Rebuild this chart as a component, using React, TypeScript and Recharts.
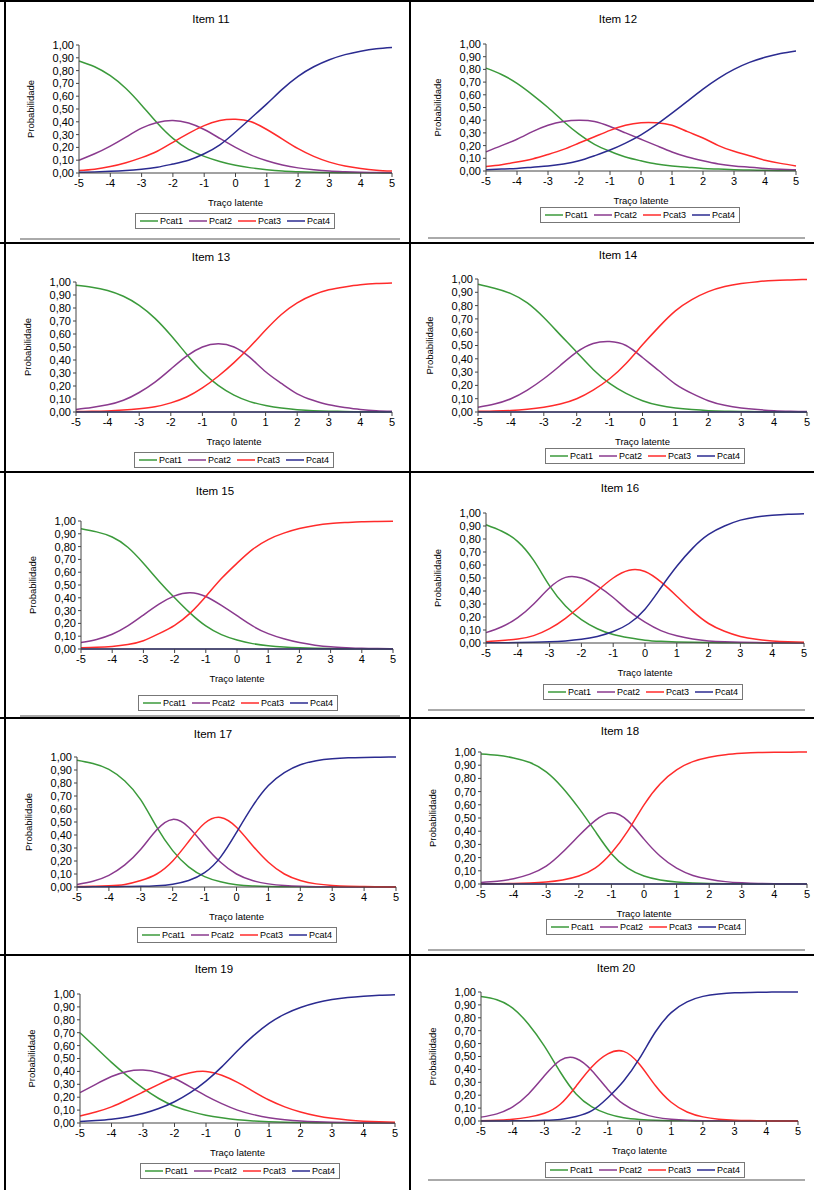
import React from "react";
import { LineChart, Line, XAxis, YAxis, Legend } from "recharts";

// latent trait grid (x) and axis ticks
const theta = [-5, -4.5, -4, -3.5, -3, -2.5, -2, -1.5, -1, -0.5, 0, 0.5, 1, 1.5, 2, 2.5, 3, 3.5, 4, 4.5, 5];
const thetaTicks = [-5, -4, -3, -2, -1, 0, 1, 2, 3, 4, 5];
const probTicks = [0, 0.1, 0.2, 0.3, 0.4, 0.5, 0.6, 0.7, 0.8, 0.9, 1];

const seriesNames = ["Pcat1", "Pcat2", "Pcat3", "Pcat4"];
const seriesColors = ["#3b9a3b", "#8a3a8e", "#ff2b2b", "#2b2b90"];

const zeros = [0, 0, 0, 0, 0, 0, 0, 0, 0, 0, 0, 0, 0, 0, 0, 0, 0, 0, 0, 0, 0];

// category curves per item: [Pcat1, Pcat2, Pcat3, Pcat4]
const item11 = [
  [0.875, 0.83, 0.76, 0.66, 0.53, 0.39, 0.27, 0.185, 0.13, 0.09, 0.06, 0.04, 0.025, 0.015, 0.01, 0.006, 0.004, 0.002, 0.001, 0.001, 0],
  [0.1, 0.15, 0.21, 0.28, 0.35, 0.395, 0.41, 0.39, 0.34, 0.27, 0.2, 0.14, 0.095, 0.062, 0.04, 0.025, 0.015, 0.01, 0.006, 0.004, 0.002],
  [0.02, 0.03, 0.05, 0.08, 0.12, 0.17, 0.24, 0.31, 0.37, 0.41, 0.42, 0.4, 0.34, 0.265, 0.19, 0.13, 0.085, 0.055, 0.035, 0.022, 0.015],
  [0.005, 0.008, 0.013, 0.02, 0.03, 0.045, 0.07, 0.1, 0.15, 0.22, 0.32, 0.43, 0.54, 0.655, 0.755, 0.83, 0.885, 0.925, 0.952, 0.97, 0.98],
];
const item12 = [
  [0.81, 0.76, 0.69, 0.6, 0.5, 0.39, 0.29, 0.21, 0.155, 0.11, 0.08, 0.055, 0.04, 0.03, 0.02, 0.015, 0.01, 0.008, 0.005, 0.004, 0.003],
  [0.15, 0.2, 0.25, 0.31, 0.36, 0.39, 0.4, 0.39, 0.35, 0.3, 0.25, 0.2, 0.15, 0.11, 0.08, 0.055, 0.04, 0.03, 0.02, 0.013, 0.009],
  [0.035, 0.05, 0.07, 0.095, 0.13, 0.17, 0.22, 0.27, 0.32, 0.36, 0.38, 0.38, 0.36, 0.31, 0.26, 0.2, 0.155, 0.12, 0.085, 0.06, 0.04],
  [0.01, 0.015, 0.02, 0.03, 0.04, 0.055, 0.08, 0.12, 0.165, 0.22, 0.285, 0.365, 0.455, 0.55, 0.645, 0.73, 0.8, 0.855, 0.895, 0.925, 0.945],
];
const item13 = [
  [0.975, 0.96, 0.935, 0.89, 0.82, 0.72, 0.59, 0.445, 0.31, 0.205, 0.13, 0.08, 0.05, 0.03, 0.018, 0.01, 0.006, 0.004, 0.002, 0.001, 0.001],
  [0.02, 0.035, 0.055, 0.09, 0.15, 0.23, 0.33, 0.43, 0.5, 0.525, 0.5, 0.42, 0.31, 0.22, 0.14, 0.09, 0.055, 0.035, 0.02, 0.01, 0.006],
  [0.003, 0.005, 0.008, 0.015, 0.025, 0.04, 0.07, 0.115, 0.185, 0.275, 0.38, 0.5, 0.63, 0.75, 0.84, 0.9, 0.94, 0.962, 0.978, 0.988, 0.993],
  zeros,
];
const item14 = [
  [0.96, 0.93, 0.89, 0.82, 0.71, 0.58, 0.45, 0.32, 0.215, 0.14, 0.085, 0.05, 0.03, 0.018, 0.01, 0.006, 0.004, 0.002, 0.001, 0.001, 0],
  [0.035, 0.06, 0.1, 0.165, 0.25, 0.35, 0.45, 0.515, 0.53, 0.5, 0.41, 0.31, 0.21, 0.14, 0.085, 0.05, 0.03, 0.018, 0.01, 0.006, 0.003],
  [0.005, 0.007, 0.011, 0.02, 0.035, 0.06, 0.1, 0.165, 0.25, 0.365, 0.505, 0.64, 0.76, 0.845, 0.905, 0.944, 0.966, 0.98, 0.989, 0.993, 0.997],
  zeros,
];
const item15 = [
  [0.94, 0.915, 0.875, 0.795, 0.67, 0.53, 0.4, 0.28, 0.18, 0.112, 0.07, 0.042, 0.025, 0.015, 0.009, 0.005, 0.003, 0.002, 0.001, 0.001, 0],
  [0.05, 0.075, 0.115, 0.18, 0.265, 0.35, 0.415, 0.44, 0.41, 0.34, 0.26, 0.18, 0.12, 0.08, 0.05, 0.03, 0.017, 0.01, 0.005, 0.003, 0.002],
  [0.01, 0.013, 0.02, 0.035, 0.065, 0.12, 0.185, 0.28, 0.41, 0.55, 0.67, 0.778, 0.855, 0.905, 0.941, 0.965, 0.98, 0.988, 0.994, 0.996, 0.998],
  zeros,
];
const item16 = [
  [0.91, 0.86, 0.78, 0.635, 0.44, 0.285, 0.18, 0.11, 0.065, 0.04, 0.022, 0.013, 0.008, 0.005, 0.003, 0.002, 0.001, 0.001, 0, 0, 0],
  [0.08, 0.125, 0.195, 0.3, 0.425, 0.505, 0.5, 0.44, 0.35, 0.245, 0.16, 0.095, 0.055, 0.03, 0.016, 0.009, 0.005, 0.003, 0.002, 0.001, 0],
  [0.01, 0.02, 0.03, 0.057, 0.11, 0.19, 0.29, 0.4, 0.5, 0.56, 0.55, 0.47, 0.36, 0.245, 0.15, 0.09, 0.05, 0.028, 0.016, 0.009, 0.005],
  [0.001, 0.002, 0.003, 0.005, 0.009, 0.016, 0.028, 0.05, 0.088, 0.15, 0.26, 0.425, 0.59, 0.73, 0.835, 0.9, 0.945, 0.97, 0.982, 0.99, 0.995],
];
const item17 = [
  [0.975, 0.95, 0.905, 0.815, 0.67, 0.46, 0.28, 0.155, 0.08, 0.04, 0.018, 0.008, 0.004, 0.002, 0.001, 0, 0, 0, 0, 0, 0],
  [0.02, 0.045, 0.09, 0.17, 0.29, 0.44, 0.52, 0.46, 0.32, 0.19, 0.1, 0.05, 0.024, 0.011, 0.005, 0.002, 0.001, 0, 0, 0, 0],
  [0.003, 0.006, 0.01, 0.02, 0.05, 0.1, 0.2, 0.35, 0.49, 0.535, 0.46, 0.32, 0.19, 0.1, 0.05, 0.024, 0.012, 0.006, 0.003, 0.001, 0],
  [0, 0.001, 0.002, 0.003, 0.005, 0.01, 0.022, 0.05, 0.11, 0.23, 0.42, 0.62, 0.78, 0.88, 0.94, 0.972, 0.987, 0.994, 0.997, 0.999, 1],
];
const item18 = [
  [0.985, 0.975, 0.955, 0.92, 0.85, 0.73, 0.575, 0.4, 0.23, 0.12, 0.06, 0.03, 0.015, 0.008, 0.004, 0.002, 0.001, 0, 0, 0, 0],
  [0.012, 0.02, 0.04, 0.075, 0.135, 0.24, 0.365, 0.48, 0.54, 0.48, 0.34, 0.21, 0.12, 0.065, 0.036, 0.018, 0.009, 0.004, 0.002, 0.001, 0],
  [0.001, 0.002, 0.004, 0.008, 0.015, 0.03, 0.06, 0.12, 0.235, 0.4, 0.6, 0.76, 0.865, 0.927, 0.96, 0.98, 0.99, 0.996, 0.998, 0.999, 1],
  zeros,
];
const item19 = [
  [0.7, 0.585, 0.47, 0.365, 0.27, 0.19, 0.13, 0.09, 0.06, 0.04, 0.025, 0.016, 0.01, 0.006, 0.004, 0.002, 0.001, 0.001, 0, 0, 0],
  [0.235, 0.3, 0.36, 0.4, 0.41, 0.39, 0.345, 0.28, 0.21, 0.15, 0.1, 0.065, 0.04, 0.025, 0.015, 0.009, 0.005, 0.003, 0.002, 0.001, 0],
  [0.055, 0.085, 0.125, 0.18, 0.24, 0.3, 0.355, 0.39, 0.4, 0.37, 0.315, 0.245, 0.178, 0.125, 0.085, 0.056, 0.036, 0.023, 0.014, 0.009, 0.006],
  [0.012, 0.02, 0.03, 0.047, 0.073, 0.112, 0.165, 0.235, 0.325, 0.435, 0.56, 0.675, 0.772, 0.844, 0.895, 0.932, 0.957, 0.973, 0.983, 0.99, 0.994],
];
const item20 = [
  [0.965, 0.94, 0.875, 0.75, 0.58, 0.38, 0.21, 0.11, 0.055, 0.025, 0.012, 0.005, 0.002, 0.001, 0, 0, 0, 0, 0, 0, 0],
  [0.03, 0.055, 0.11, 0.21, 0.35, 0.47, 0.485, 0.39, 0.245, 0.13, 0.065, 0.03, 0.013, 0.005, 0.002, 0.001, 0, 0, 0, 0, 0],
  [0.002, 0.005, 0.013, 0.03, 0.06, 0.13, 0.27, 0.42, 0.52, 0.54, 0.44, 0.275, 0.145, 0.07, 0.032, 0.014, 0.006, 0.003, 0.001, 0, 0],
  [0, 0, 0.001, 0.002, 0.005, 0.012, 0.035, 0.08, 0.18, 0.31, 0.485, 0.69, 0.84, 0.924, 0.966, 0.985, 0.994, 0.997, 0.999, 1, 1],
];

const items = [
  { title: "Item 11", curves: item11 },
  { title: "Item 12", curves: item12 },
  { title: "Item 13", curves: item13 },
  { title: "Item 14", curves: item14 },
  { title: "Item 15", curves: item15 },
  { title: "Item 16", curves: item16 },
  { title: "Item 17", curves: item17 },
  { title: "Item 18", curves: item18 },
  { title: "Item 19", curves: item19 },
  { title: "Item 20", curves: item20 },
];

// page layout: plot box (x of -5 / 5, y of 1,00 / 0,00), title and legend centres
const cells = [
  { x0: 79, x1: 392, y0: 45, y1: 173, tx: 211, ty: 19, lx: 235, ly: 221 },
  { x0: 486, x1: 796, y0: 44, y1: 171, tx: 618, ty: 19, lx: 640, ly: 215 },
  { x0: 76, x1: 392, y0: 282, y1: 412, tx: 211, ty: 257, lx: 234, ly: 460 },
  { x0: 478, x1: 807, y0: 279, y1: 412, tx: 618, ty: 255, lx: 645, ly: 456 },
  { x0: 81, x1: 393, y0: 521, y1: 649, tx: 215, ty: 491, lx: 238, ly: 703 },
  { x0: 486, x1: 804, y0: 513, y1: 643, tx: 620, ty: 488, lx: 643, ly: 692 },
  { x0: 77, x1: 396, y0: 757, y1: 887, tx: 213, ty: 734, lx: 237, ly: 935 },
  { x0: 481, x1: 807, y0: 752, y1: 884, tx: 620, ty: 731, lx: 646, ly: 927 },
  { x0: 80, x1: 395, y0: 994, y1: 1123, tx: 214, ty: 969, lx: 240, ly: 1171 },
  { x0: 481, x1: 798, y0: 992, y1: 1121, tx: 616, ty: 968, lx: 645, ly: 1170 },
];

// table rules and grey chart frame edges
const rules = [
  { x: 0, y: 0, w: 814, h: 2, c: "#000" },
  { x: 0, y: 242, w: 814, h: 2, c: "#000" },
  { x: 0, y: 471, w: 814, h: 2, c: "#000" },
  { x: 0, y: 717, w: 814, h: 2, c: "#000" },
  { x: 0, y: 954, w: 814, h: 2, c: "#000" },
  { x: 4, y: 0, w: 2, h: 1190, c: "#000" },
  { x: 409, y: 0, w: 2, h: 1190, c: "#000" },
  { x: 20, y: 238, w: 380, h: 2, c: "#aaa" },
  { x: 428, y: 237, w: 377, h: 2, c: "#aaa" },
  { x: 428, y: 709, w: 377, h: 2, c: "#aaa" },
  { x: 20, y: 715, w: 380, h: 2, c: "#aaa" },
  { x: 428, y: 949, w: 377, h: 2, c: "#aaa" },
  { x: 428, y: 1179, w: 377, h: 2, c: "#aaa" },
];

const Y_AXIS_W = 52;
const X_AXIS_H = 33;

const fmt = (v: number) => v.toFixed(2).replace(".", ",");

const renderLegend = (props: any) => (
  <div
    style={{
      display: "flex",
      alignItems: "center",
      justifyContent: "center",
      height: 14,
      border: "1px solid #777",
      background: "#fff",
      fontSize: 9,
      color: "#000",
    }}
  >
    {(props.payload || []).map((entry: any) => {
      const color = seriesColors[seriesNames.indexOf(entry.value)] || entry.color;
      return (
        <span key={entry.value} style={{ display: "flex", alignItems: "center", margin: "0 3px" }}>
          <svg width={18} height={4} style={{ marginRight: 2 }}>
            <line x1={0} y1={2} x2={18} y2={2} stroke={color} strokeWidth={1.5} />
          </svg>
          {entry.value}
        </span>
      );
    })}
  </div>
);

function ItemChart({ title, curves, cell }: { title: string; curves: number[][]; cell: (typeof cells)[number] }) {
  const rows = theta.map((t, i) => {
    const row: Record<string, number> = { theta: t };
    seriesNames.forEach((n, k) => {
      row[n] = curves[k][i];
    });
    return row;
  });
  const left = cell.x0 - Y_AXIS_W - 4;
  const top = cell.y0 - 8;
  const width = cell.x1 + 12 - left;
  const height = cell.ly + 10 - top;
  const margin = { top: 8, right: 12, left: 4, bottom: height - 8 - (cell.y1 - cell.y0) - X_AXIS_H };

  return (
    <>
      <div
        style={{
          position: "absolute",
          left: cell.tx - 60,
          top: cell.ty - 8,
          width: 120,
          textAlign: "center",
          fontSize: 11.5,
          lineHeight: "16px",
        }}
      >
        {title}
      </div>
      <div style={{ position: "absolute", left, top }}>
        <LineChart width={width} height={height} data={rows} margin={margin}>
          <XAxis
            dataKey="theta"
            type="number"
            domain={[-5, 5]}
            ticks={thetaTicks}
            interval={0}
            height={X_AXIS_H}
            tickSize={4}
            tickMargin={2}
            stroke="#444"
            tick={{ fontSize: 11, fill: "#000" }}
            label={{ value: "Traço latente", position: "insideBottom", offset: 0, fontSize: 9.5, fill: "#000" }}
          />
          <YAxis
            type="number"
            domain={[0, 1]}
            ticks={probTicks}
            interval={0}
            width={Y_AXIS_W}
            tickSize={3}
            tickMargin={2}
            stroke="#444"
            tickFormatter={fmt}
            tick={{ fontSize: 11, fill: "#000" }}
            label={{
              value: "Probabilidade",
              angle: -90,
              position: "insideLeft",
              offset: 4,
              fontSize: 9.5,
              fill: "#000",
              style: { textAnchor: "middle" },
            }}
          />
          <Legend
            layout="horizontal"
            verticalAlign="middle"
            align="center"
            wrapperStyle={{ top: cell.ly - 8 - top, left: cell.lx - 100 - left, width: 200 }}
            content={renderLegend}
          />
          {seriesNames.map((n, k) => (
            <Line
              key={n}
              type="natural"
              dataKey={n}
              name={n}
              stroke={seriesColors[k]}
              strokeWidth={1.5}
              dot={false}
              isAnimationActive={false}
            />
          ))}
        </LineChart>
      </div>
    </>
  );
}

export default function App() {
  return (
    <div
      style={{
        position: "absolute",
        left: 0,
        top: 0,
        width: 814,
        height: 1190,
        background: "#fff",
        fontFamily: "'Liberation Sans', Arial, sans-serif",
        overflow: "hidden",
      }}
    >
      {rules.map((r, i) => (
        <div key={i} style={{ position: "absolute", left: r.x, top: r.y, width: r.w, height: r.h, background: r.c }} />
      ))}
      {items.map((it, i) => (
        <ItemChart key={it.title} title={it.title} curves={it.curves} cell={cells[i]} />
      ))}
    </div>
  );
}
